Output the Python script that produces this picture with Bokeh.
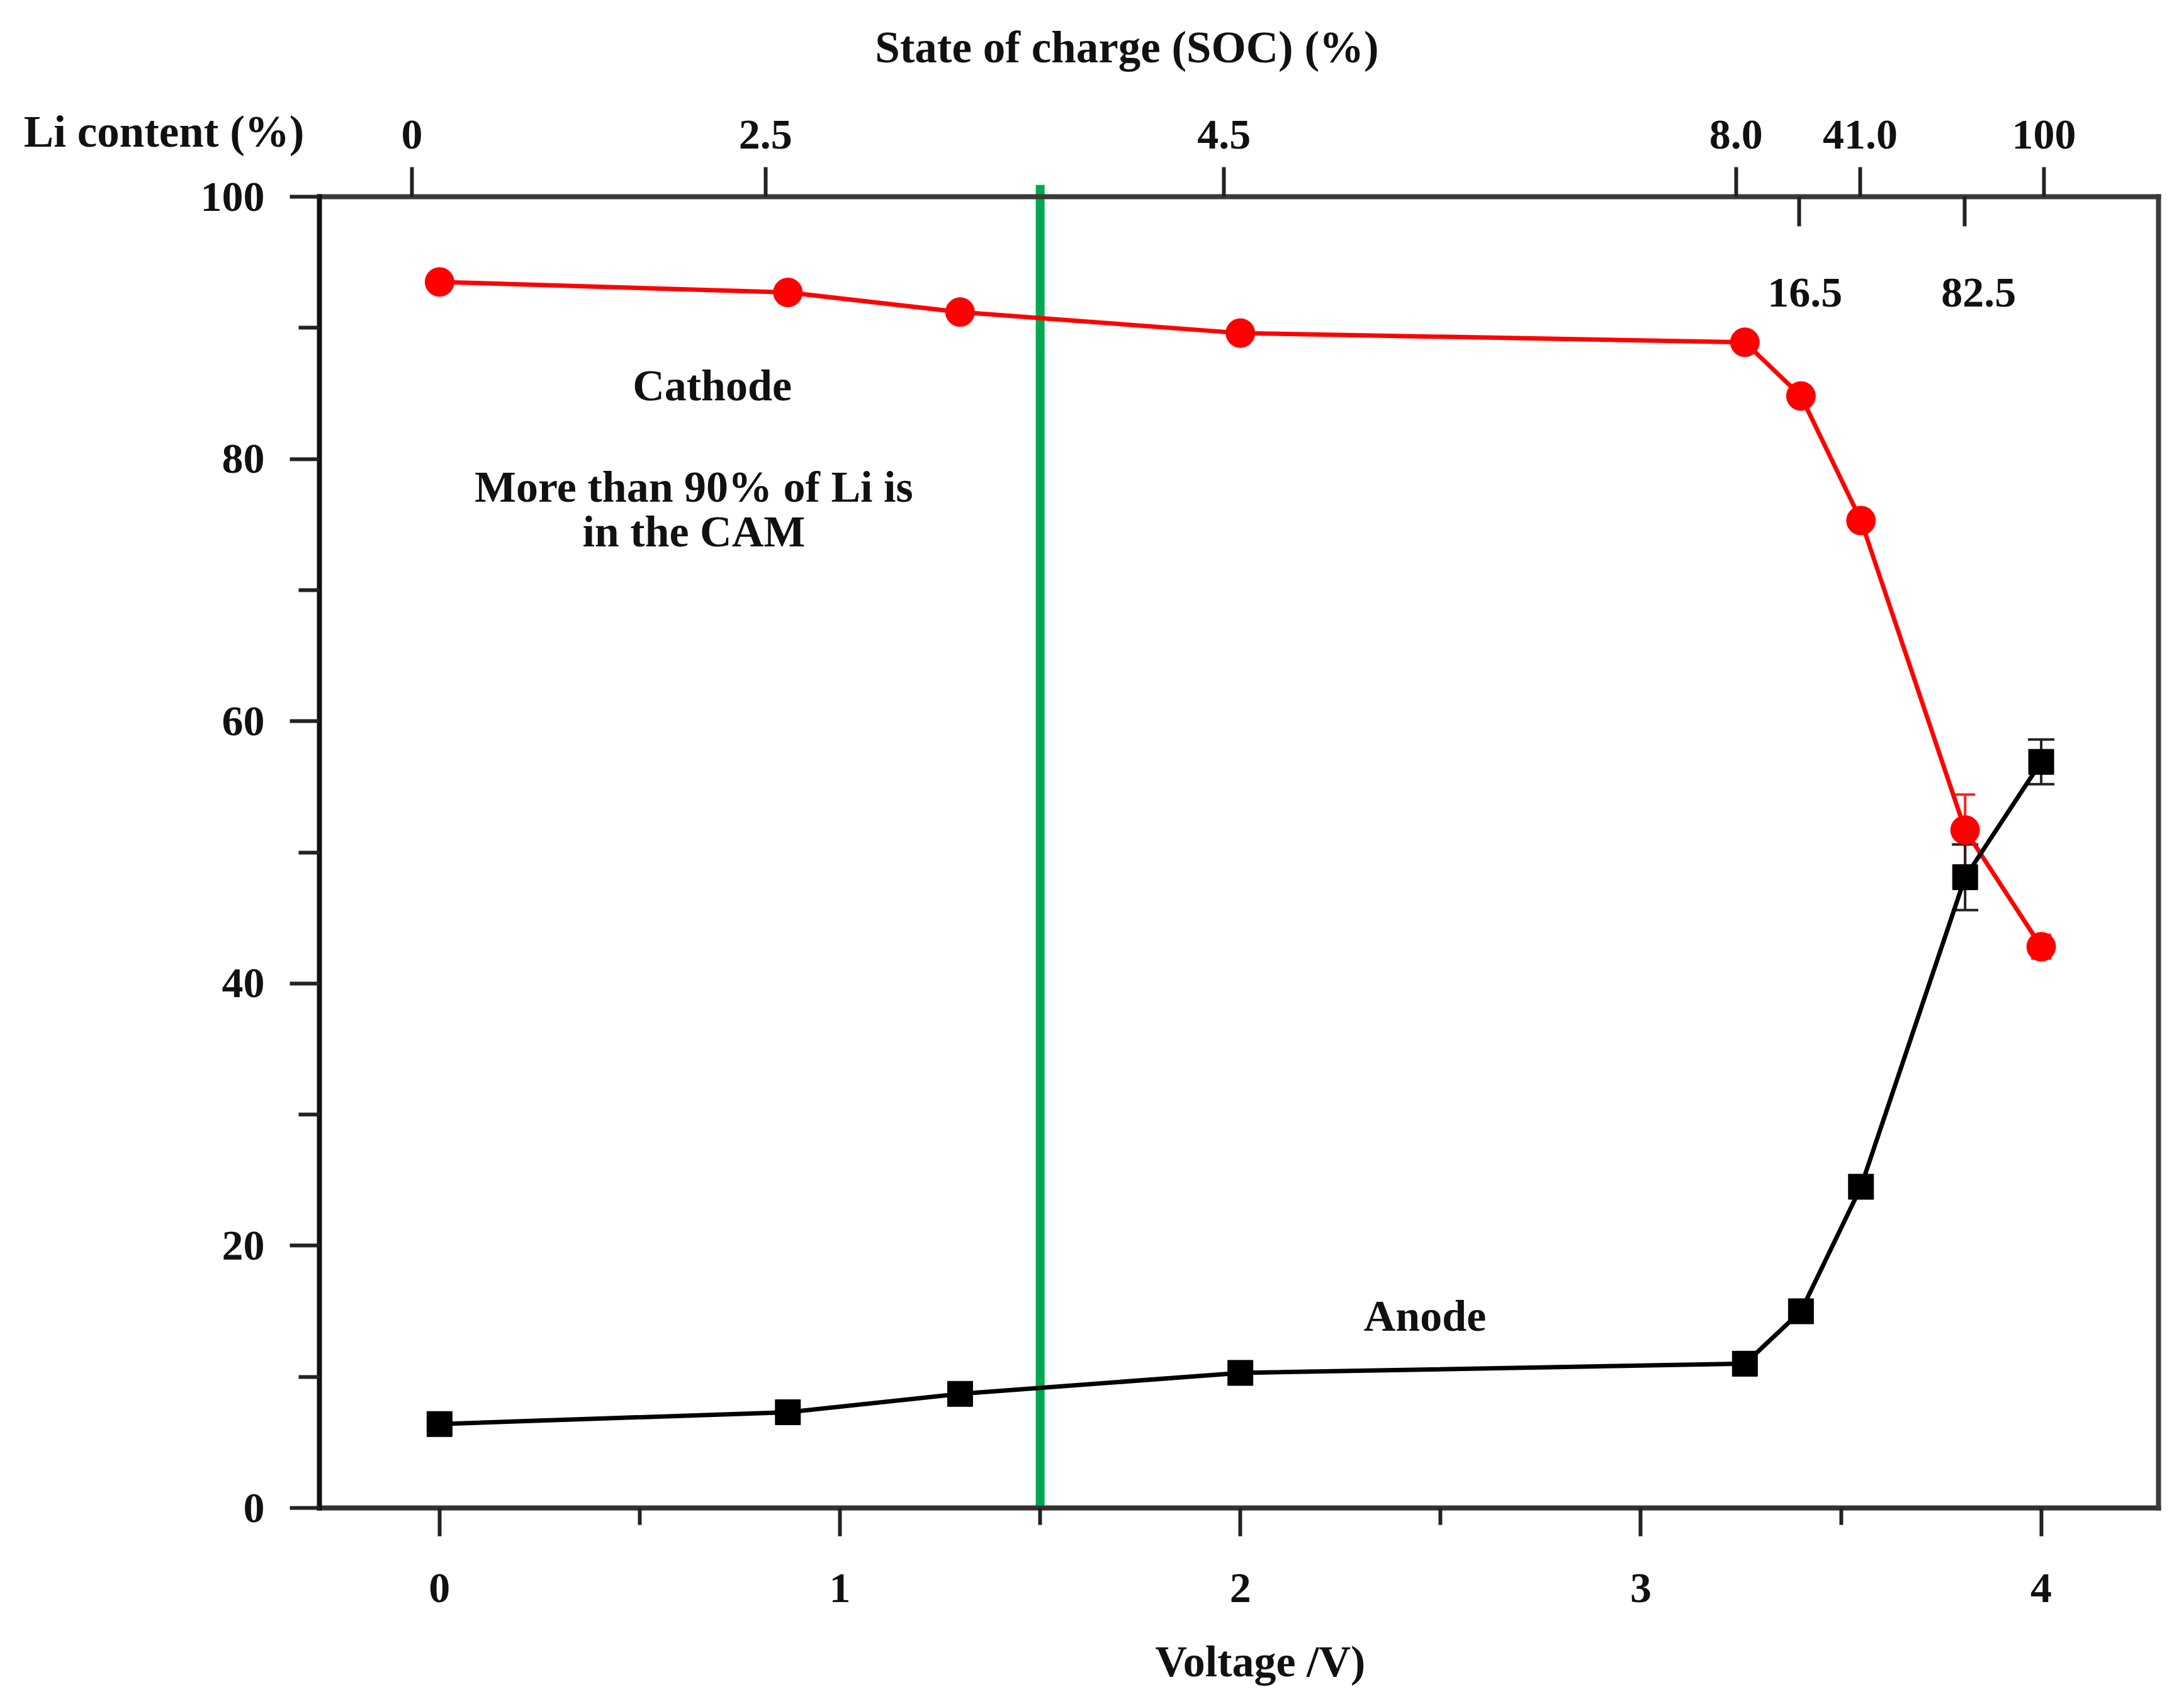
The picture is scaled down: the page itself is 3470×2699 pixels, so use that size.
from bokeh.plotting import figure
from bokeh.models import (LinearAxis, FixedTicker, Range1d, Label,
                          ColumnDataSource, Whisker, TeeHead)
from bokeh.embed import file_html
from bokeh.resources import INLINE

# ---------------- data ----------------
voltage = [0.0, 0.87, 1.30, 2.0, 3.26, 3.40, 3.55, 3.81, 4.0]
cathode = [93.5, 92.7, 91.2, 89.6, 88.9, 84.8, 75.3, 51.7, 42.8]
anode = [6.4, 7.3, 8.7, 10.3, 11.0, 15.0, 24.5, 48.1, 56.9]

cathode_err_x = [3.81, 4.0]
cathode_err = [2.7, 0.9]
anode_err_x = [3.81, 4.0]
anode_err = [2.5, 1.7]

volt_ticks = [0, 1, 2, 3, 4]
volt_minor = [0.5, 1.5, 2.5, 3.5]
li_ticks = [0, 20, 40, 60, 80, 100]
li_minor = [10, 30, 50, 70, 90]

# top axis: Li content / SOC labels, tick positions on the voltage scale
soc_tick_pos = [-0.069, 0.814, 1.959, 3.238, 3.548, 4.007]
soc_tick_labels = ["0", "2.5", "4.5", "8.0", "41.0", "100"]
soc_inner_pos = [3.395, 3.809]
soc_inner_labels = ["16.5", "82.5"]

green_marker_v = 1.5

# axis limits of the drawn box
X_LO, X_HI = -0.30, 4.293
Y_LO, Y_HI = 0.0, 100.0

# ---------------- layout (page pixels) ----------------
W, H = 3454, 2691
M = 8
BOX_L, BOX_R, BOX_T, BOX_B = 515, 3437, 320, 2403
SX = (BOX_R - BOX_L) / (X_HI - X_LO)
SY = (BOX_B - BOX_T) / (Y_HI - Y_LO)


def px_x(px):
    return X_LO + (px - BOX_L) / SX


def px_y(py):
    return Y_HI - (py - BOX_T) / SY


FONT = "Liberation Serif"

p = figure(width=W, height=H, output_backend="svg", toolbar_location=None,
           x_range=Range1d(px_x(M), px_x(M + W)),
           y_range=Range1d(px_y(M + H), px_y(M)),
           x_axis_location=None, y_axis_location=None,
           min_border=0, min_border_left=0, min_border_right=0,
           min_border_top=0, min_border_bottom=0)
p.grid.visible = False
p.outline_line_color = None
p.background_fill_color = "white"
p.border_fill_color = "white"


def style_axis(ax, color="#2a2a2a"):
    ax.axis_line_color = color
    ax.axis_line_width = 8
    ax.axis_line_cap = "square"
    ax.major_tick_line_color = "#222222"
    ax.major_tick_line_width = 6
    ax.minor_tick_line_color = "#222222"
    ax.minor_tick_line_width = 6
    ax.major_label_text_font = FONT
    ax.major_label_text_font_style = "bold"
    ax.major_label_text_font_size = "68px"
    ax.major_label_text_color = "#111111"


# bottom axis (Voltage)
xb = LinearAxis(ticker=FixedTicker(ticks=volt_ticks, minor_ticks=volt_minor),
                fixed_location=Y_LO, bounds=(X_LO, X_HI))
style_axis(xb, "#333333")
xb.major_tick_out = 45
xb.major_tick_in = 0
xb.minor_tick_out = 27
xb.minor_tick_in = 0
xb.major_label_standoff = 60
p.add_layout(xb, "below")

# left axis (Li content)
yl = LinearAxis(ticker=FixedTicker(ticks=li_ticks, minor_ticks=li_minor),
                fixed_location=X_LO, bounds=(Y_LO, Y_HI))
style_axis(yl, "#111111")
yl.major_tick_out = 47
yl.major_tick_in = 0
yl.minor_tick_out = 33
yl.minor_tick_in = 0
yl.major_label_standoff = 40
p.add_layout(yl, "left")

# top axis (SOC / Li content)
xt = LinearAxis(ticker=FixedTicker(ticks=soc_tick_pos, minor_ticks=soc_inner_pos),
                fixed_location=Y_HI, bounds=(X_LO, X_HI),
                major_label_overrides={t: l for t, l in zip(soc_tick_pos, soc_tick_labels)})
style_axis(xt, "#3a3a3a")
xt.major_tick_out = 47
xt.major_tick_in = 0
xt.minor_tick_out = 0
xt.minor_tick_in = 47
xt.major_label_standoff = 30
p.add_layout(xt, "above")

# right edge of the box
yr = LinearAxis(ticker=FixedTicker(ticks=[]), fixed_location=X_HI,
                bounds=(Y_LO, Y_HI))
style_axis(yr, "#3a3a3a")
yr.major_label_text_font_size = "0px"
p.add_layout(yr, "right")

# green vertical marker
p.segment(x0=[green_marker_v], y0=[Y_LO], x1=[green_marker_v], y1=[Y_HI + 0.9],
          line_color="#00A94F", line_width=14)

# lines
p.line(voltage, cathode, line_color="#FF0000", line_width=7)
p.line(voltage, anode, line_color="#000000", line_width=7)

# error bars
csrc = ColumnDataSource(dict(
    x=cathode_err_x,
    upper=[cathode[voltage.index(v)] + e for v, e in zip(cathode_err_x, cathode_err)],
    lower=[cathode[voltage.index(v)] - e for v, e in zip(cathode_err_x, cathode_err)]))
asrc = ColumnDataSource(dict(
    x=anode_err_x,
    upper=[anode[voltage.index(v)] + e for v, e in zip(anode_err_x, anode_err)],
    lower=[anode[voltage.index(v)] - e for v, e in zip(anode_err_x, anode_err)]))
p.add_layout(Whisker(source=csrc, base="x", upper="upper", lower="lower",
                     line_color="#FF2020", line_width=4,
                     upper_head=TeeHead(size=32, line_color="#FF2020", line_width=4),
                     lower_head=TeeHead(size=32, line_color="#FF2020", line_width=4)))
p.add_layout(Whisker(source=asrc, base="x", upper="upper", lower="lower",
                     line_color="#222222", line_width=4,
                     upper_head=TeeHead(size=42, line_color="#222222", line_width=4),
                     lower_head=TeeHead(size=42, line_color="#222222", line_width=4)))

# markers
p.scatter(voltage, cathode, marker="circle", size=46,
          fill_color="#FF0000", line_color="#FF0000")
p.scatter(voltage, anode, marker="square", size=40,
          fill_color="#000000", line_color="#000000")


def note(x, y, txt, align="center", baseline="middle", size="70px"):
    p.add_layout(Label(x=x, y=y, text=txt, text_align=align,
                       text_baseline=baseline, text_font=FONT,
                       text_font_style="bold", text_font_size=size,
                       text_color="#111111"))


# labels of the inner SOC ticks
note(soc_inner_pos[0] + 0.015, 92.7, soc_inner_labels[0], size="68px")
note(soc_inner_pos[1] + 0.035, 92.7, soc_inner_labels[1], size="68px")

# in-plot annotations
note(0.681, 85.6, "Cathode")
note(0.635, 77.85, "More than 90% of Li is")
note(0.635, 74.45, "in the CAM")
note(2.461, 14.65, "Anode")

# axis titles
note(px_x(1798), px_y(82), "State of charge (SOC) (%)", baseline="alphabetic", size="71px")
note(px_x(491), px_y(216), "Li content (%)", align="right", baseline="alphabetic", size="71px")
note(px_x(2010), px_y(2647), "Voltage /V)", baseline="alphabetic", size="70px")

open("out.html", "w").write(file_html(p, INLINE))
